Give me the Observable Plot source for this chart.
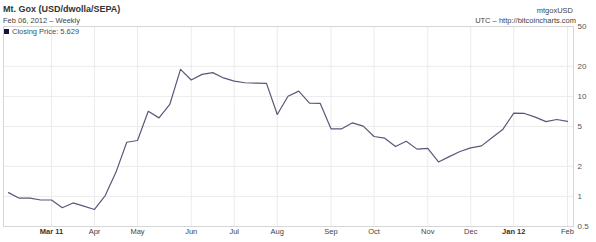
<!DOCTYPE html>
<html><head><meta charset="utf-8">
<script src="https://cdn.jsdelivr.net/npm/d3@7"></script>
<script src="https://cdn.jsdelivr.net/npm/@observablehq/plot@0.6"></script>
<style>
body{margin:0;background:#fff;}
#wrap{position:relative;width:596px;height:242px;font-family:"Liberation Sans",Arial,sans-serif;overflow:hidden;}
#wrap svg{position:absolute;left:0;top:0;}
.t{position:absolute;white-space:nowrap;line-height:1;z-index:2;}
</style></head><body>
<div id="wrap">
 <div class="t" style="left:3px;top:5px;font-size:9px;font-weight:bold;color:#333">Mt. Gox (USD/dwolla/SEPA)</div>
 <div class="t" style="left:3px;top:17px;font-size:7.5px;color:#444">Feb 06, 2012 – Weekly</div>
 <div class="t" style="right:23px;top:7px;font-size:7.5px;color:#444">mtgoxUSD</div>
 <div class="t" style="right:20px;top:17px;font-size:7.5px;color:#444">UTC – http://bitcoincharts.com</div>
 <div class="t" style="left:4px;top:28px;font-size:7.5px;color:#2f5566"><span style="display:inline-block;width:5px;height:5px;background:#14143c;margin-right:3px;vertical-align:0px"></span>Closing Price: 5.629</div>
</div>
<script>
const weeks = ["2011-02-07","2011-02-14","2011-02-21","2011-02-28","2011-03-07","2011-03-14","2011-03-21","2011-03-28","2011-04-04","2011-04-11","2011-04-18","2011-04-25","2011-05-02","2011-05-09","2011-05-16","2011-05-23","2011-05-30","2011-06-06","2011-06-13","2011-06-20","2011-06-27","2011-07-04","2011-07-11","2011-07-18","2011-07-25","2011-08-01","2011-08-08","2011-08-15","2011-08-22","2011-08-29","2011-09-05","2011-09-12","2011-09-19","2011-09-26","2011-10-03","2011-10-10","2011-10-17","2011-10-24","2011-10-31","2011-11-07","2011-11-14","2011-11-21","2011-11-28","2011-12-05","2011-12-12","2011-12-19","2011-12-26","2012-01-02","2012-01-09","2012-01-16","2012-01-23","2012-01-30","2012-02-06"];
const closing = [1.09,0.96,0.96,0.92,0.92,0.77,0.86,0.80,0.74,1.02,1.75,3.48,3.62,7.1,6.1,8.3,18.6,14.6,16.6,17.3,15.3,14.2,13.7,13.6,13.5,6.6,10.05,11.3,8.55,8.5,4.74,4.74,5.44,5.04,3.97,3.82,3.15,3.56,2.97,3.02,2.21,2.5,2.81,3.06,3.2,3.88,4.7,6.8,6.75,6.2,5.6,5.87,5.629];
const tickDates = ["2011-03-07","2011-04-04","2011-05-02","2011-06-06","2011-07-04","2011-08-01","2011-09-05","2011-10-03","2011-11-07","2011-12-05","2012-01-02","2012-02-06"];
const tickLabels = ["Mar 11","Apr","May","Jun","Jul","Aug","Sep","Oct","Nov","Dec","Jan 12","Feb"];
const tickBold = [true,false,false,false,false,false,false,false,false,false,true,false];
const yTicks = [0.5,1,2,5,10,20,50];
const yTickLabels = ["0.5","1","2","5","10","20","50"];
const yGrid = [1,2,5,10,20];

const data = weeks.map((w,i)=>({date:new Date(w), value:closing[i]}));
const tdates = tickDates.map(d=>new Date(d));
const labelOf = new Map(tdates.map((d,i)=>[+d, tickLabels[i]]));
const normalTicks = tdates.filter((d,i)=>!tickBold[i]);
const boldTicks = tdates.filter((d,i)=>tickBold[i]);
const yLab = yTicks.map((v,i)=>({v, label:yTickLabels[i]}));

const chart = Plot.plot({
  width:596, height:242,
  marginTop:26, marginBottom:16, marginLeft:3, marginRight:23,
  style:{fontFamily:"Liberation Sans, Arial, sans-serif", fontSize:"8px", color:"#444", background:"transparent"},
  x:{type:"utc", domain:[data[0].date, data[data.length-1].date], insetLeft:5, insetRight:6},
  y:{type:"log", domain:[0.5,50], axis:null},
  marks:[
    Plot.gridY(yGrid,{stroke:"#ebebeb", strokeOpacity:1}),
    Plot.gridX(tdates,{stroke:"#ebebeb", strokeOpacity:1}),
    Plot.frame({stroke:"#d6d6d6"}),
    Plot.text(yLab,{y:"v", text:"label", frameAnchor:"right", dx:4, textAnchor:"start", fontSize:8, fill:"#555"}),
    Plot.axisX(normalTicks,{anchor:"bottom", tickSize:0, tickPadding:2, tickFormat:d=>labelOf.get(+d), fontSize:7.5, fill:"#444", label:null}),
    Plot.axisX(boldTicks,{anchor:"bottom", tickSize:0, tickPadding:2, tickFormat:d=>labelOf.get(+d), fontSize:7.5, fontWeight:"bold", fill:"#333", label:null}),
    Plot.line(data,{x:"date", y:"value", stroke:"#5a5878", strokeWidth:1.2})
  ]
});
document.getElementById("wrap").appendChild(chart);
</script>
</body></html>
